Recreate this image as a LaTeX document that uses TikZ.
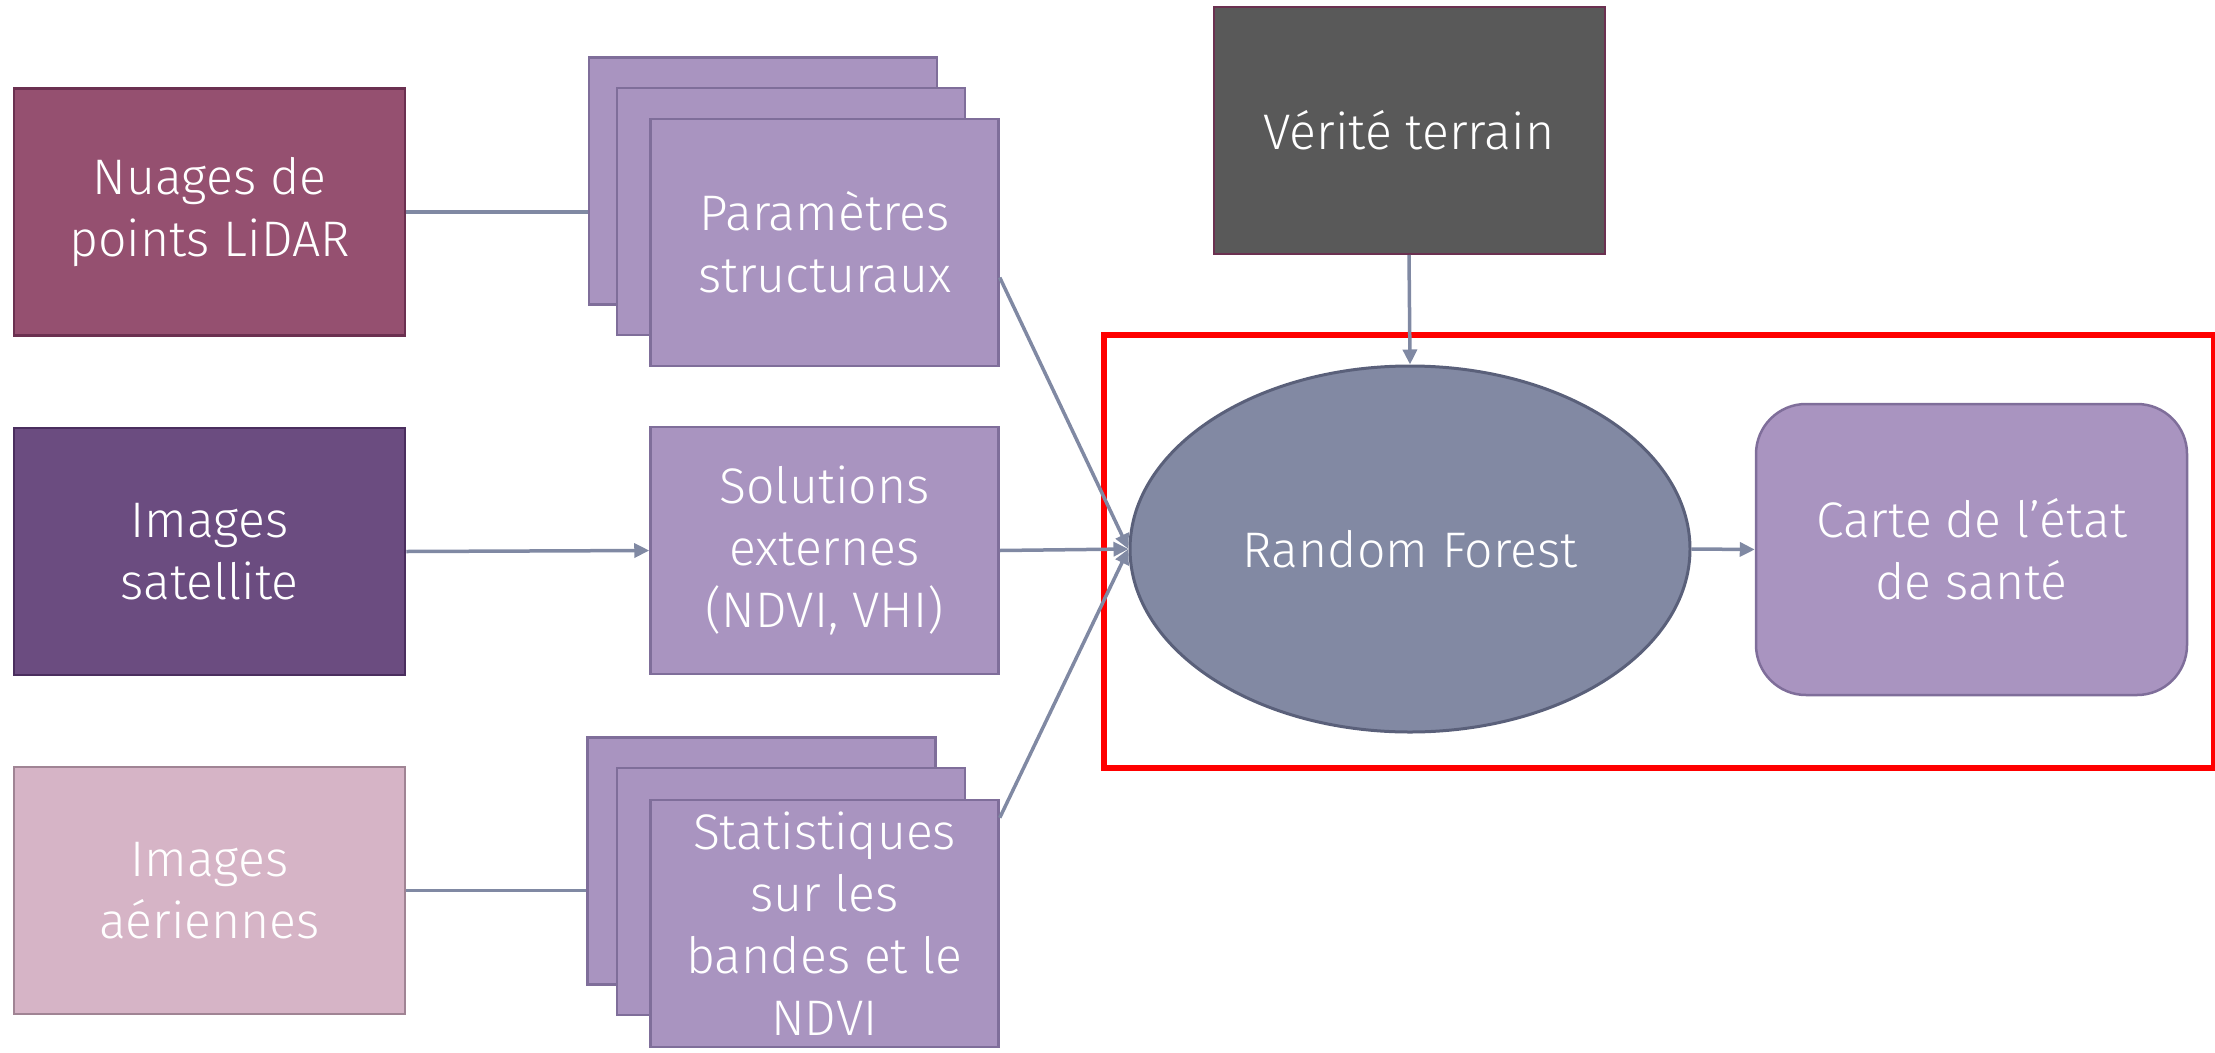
\documentclass[tikz,border=0pt]{standalone}
\usepackage{fontspec}
\setmainfont{Fira Sans Light}
\usetikzlibrary{shapes.geometric,arrows.meta}
\definecolor{lineC}{HTML}{8089A3}
\definecolor{purpF}{HTML}{A994C0}
\definecolor{purpD}{HTML}{7F6E9A}
\definecolor{nuaF}{HTML}{955070}
\definecolor{nuaD}{HTML}{6B3050}
\definecolor{satF}{HTML}{6B4C80}
\definecolor{satD}{HTML}{4A2E5E}
\definecolor{aerF}{HTML}{D6B4C6}
\definecolor{aerD}{HTML}{A08494}
\definecolor{verF}{HTML}{595959}
\definecolor{rfF}{HTML}{8289A3}
\definecolor{rfD}{HTML}{5A607A}
\begin{document}
\begin{tikzpicture}[x=1pt,y=-1pt,
  txt/.style={text=white,font=\fontsize{50}{62}\selectfont,align=center,inner sep=0pt},
  src/.style={txt,draw,line width=2.5pt,rectangle,minimum width=391pt,minimum height=247pt},
  pbox/.style={txt,draw=purpD,fill=purpF,line width=2.5pt,rectangle,minimum width=348pt,minimum height=247pt},
  conn/.style={draw=lineC,line width=3.5pt},
  arr/.style={conn,-{Triangle[length=15pt,width=14pt]}}]
\useasboundingbox (0,0) rectangle (2215,1052);
% sources
\node[src,draw=nuaD,fill=nuaF] (nuage) at (209.5,212) {Nuages de\\points LiDAR};
\node[src,draw=satD,fill=satF] (sat) at (209.5,551.5) {Images\\satellite};
\node[src,draw=aerD,fill=aerF] (aer) at (209.5,890.5) {Images\\aériennes};
% parameter stack
\node[pbox] (paramB) at (763,181) {};
\node[pbox] (paramM) at (791,211.5) {};
\node[pbox] (paramF) at (824.5,242.5) {Paramètres\\structuraux};
% solutions
\node[pbox] (sol) at (824.5,550.5) {Solutions\\externes\\(NDVI, VHI)};
% statistics stack
\node[pbox] (statB) at (761.5,861) {};
\node[pbox] (statM) at (791,891.5) {};
\node[pbox] (statF) at (824.5,923.5) {Statistiques\\sur les\\bandes et le\\NDVI};
% ground truth
\node[src,draw=nuaD,fill=verF,line width=2pt] (ver) at (1409,130.5) {Vérité terrain};
% red frame
\draw[red,line width=6pt] (1104,335) rectangle (2214,768);
% random forest
\node[txt,ellipse,draw=rfD,fill=rfF,line width=3pt,minimum width=560pt,minimum height=366pt] (rf) at (1410,549) {Random Forest};
% map
\node[txt,rectangle,rounded corners=50pt,draw=purpD,fill=purpF,line width=2.5pt,minimum width=431pt,minimum height=291pt] (carte) at (1971.5,549.5) {Carte de l’état\\de santé};
% connectors
\draw[conn] (nuage.east) -- (nuage.east -| paramB.west);
\draw[arr] (sat.east) -- (sol.west);
\draw[conn] (aer.east) -- (aer.east -| statB.west);
\draw[arr] ([yshift=-35pt]paramF.east) -- (rf.west);
\draw[arr] (sol.east) -- (rf.west);
\draw[arr] ([yshift=-19pt]statF.north east) -- (rf.west);
\draw[arr] (ver.south) -- (rf.north);
\draw[arr] (rf.east) -- (carte.west);
\end{tikzpicture}
\end{document}
